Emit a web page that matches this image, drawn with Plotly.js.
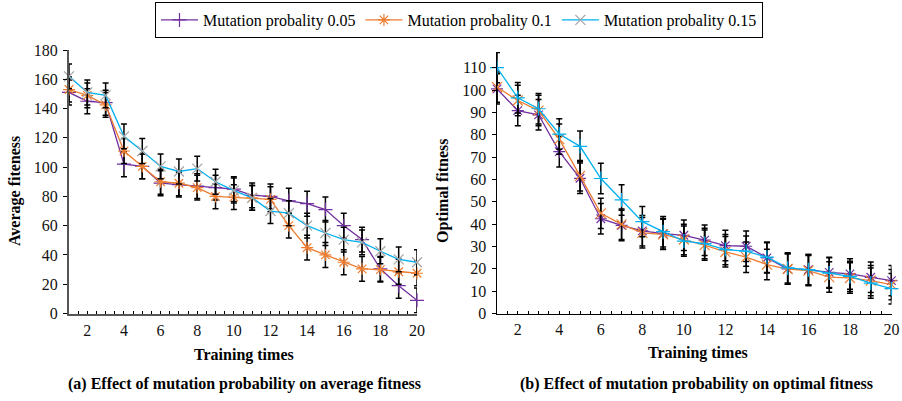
<!DOCTYPE html>
<html>
<head>
<meta charset="utf-8">
<script src="https://cdn.plot.ly/plotly-3.0.1.min.js"></script>
<style>html,body{margin:0;padding:0;background:#fff;}#chart{width:902px;height:401px;}</style>
</head>
<body>
<div id="chart"></div>
<script>
const trainingTimes = [1,2,3,4,5,6,7,8,9,10,11,12,13,14,15,16,17,18,19,20];
const seriesNames = ['Mutation probality 0.05','Mutation probality 0.1','Mutation probality 0.15'];

// (a) average fitness
const avgP005 = [151,145,144,102,100.5,89,88,87,86,85,80.7,80,77,75,71,60,50.5,30.5,19,9];
const avgP010 = [153,149,142.5,111,100.5,90,89,86,80,79.5,79,78,60,45,40,35,30.5,30,28.5,27.5];
const avgP015 = [162,151,149,121,111,100.5,97,99,90,84,79,70,68.5,60,55,50.5,48.6,42.5,37,35];
const avgErr = 8.5;

// (b) optimal fitness
const optP005 = [100.5,90.8,88.9,72.4,60.5,42.4,39.4,37,35.7,35,32.8,30.4,30.1,24.9,19.9,19.6,18.4,17.7,16.2,14.7];
const optP010 = [101.3,95.3,90.8,78,61.6,44.8,39.9,36.1,35.4,33.1,30.6,27.6,25.2,21.9,19.9,19.2,16.3,15.9,14.7,12.9];
const optP015 = [110,96.5,91.6,80.3,74.8,60.4,50.8,41.1,36.6,32.4,31.3,28.6,27.9,25.2,20.4,19.6,18.1,16.6,13.6,11.1];
const optErr = 6.8;

const PURPLE = '#7030A0', ORANGE = '#ED7D31', BLUE = '#00B0F0', GRAY = '#A5A5A5';
const W = 902, H = 401;
const px = v => v / W, py = v => 1 - v / H;
const serif = 'Liberation Serif, Times New Roman, serif';

function tr(y, name, color, mcolor, symbol, err, xa, ya, show) {
  return {
    x: trainingTimes, y: y, name: name, type: 'scatter', mode: 'lines+markers',
    xaxis: xa, yaxis: ya, showlegend: show, cliponaxis: false,
    line: {color: color, width: 1.3},
    marker: {symbol: symbol, size: 10, color: mcolor, line: {color: mcolor, width: 1.2}},
    error_y: {type: 'constant', value: err, visible: true, color: '#000', thickness: 1.5, width: 3}
  };
}

const data = [
  tr(avgP005, seriesNames[0], PURPLE, PURPLE, 'cross-thin-open', avgErr, 'x', 'y', true),
  tr(avgP010, seriesNames[1], ORANGE, ORANGE, 'asterisk-open', avgErr, 'x', 'y', true),
  tr(avgP015, seriesNames[2], BLUE, GRAY, 'x-thin-open', avgErr, 'x', 'y', true),
  tr(optP005, seriesNames[0], PURPLE, PURPLE, 'asterisk-open', optErr, 'x2', 'y2', false),
  tr(optP010, seriesNames[1], ORANGE, ORANGE, 'x-thin-open', optErr, 'x2', 'y2', false),
  tr(optP015, seriesNames[2], BLUE, BLUE, 'cross-thin-open', optErr, 'x2', 'y2', false)
];

const tickFont = {family: serif, size: 16, color: '#111'};
function xax(domain, lc, lw) {
  return {
    domain: domain, range: [1, 20], tick0: 0, dtick: 2, ticks: 'inside', ticklen: 3, tickwidth: 1,
    tickcolor: '#000', showline: true, linecolor: lc, linewidth: lw, showgrid: false, zeroline: false,
    tickfont: tickFont, ticklabelstandoff: 1,
    minor: {dtick: 0.5, ticks: 'inside', ticklen: 3, tickcolor: '#000', showgrid: false}
  };
}
function yax(domain, range, dtick, lc, lw, anchor) {
  return {
    domain: domain, range: range, dtick: dtick, ticks: 'outside', ticklen: 4, tickwidth: 1,
    tickcolor: '#000', showline: true, linecolor: lc, linewidth: lw, showgrid: false, zeroline: false,
    tickfont: tickFont, anchor: anchor, ticklabelstandoff: 2
  };
}

function ann(text, x, y, size, angle) {
  return {text: text, x: px(x), y: py(y), xref: 'paper', yref: 'paper', xanchor: 'center', yanchor: 'middle',
          textangle: angle || 0, showarrow: false, font: {family: serif, size: size, color: '#000'}};
}

const layout = {
  width: W, height: H, margin: {l: 0, r: 0, t: 0, b: 0},
  paper_bgcolor: '#fff', plot_bgcolor: '#fff',
  font: {family: serif, color: '#000'},
  xaxis: Object.assign(xax([px(69), px(417)], '#555', 2), {anchor: 'y'}),
  yaxis: yax([1 - 313.5 / H, 1 - 50 / H], [0, 180], 20, '#555', 2, 'x'),
  xaxis2: Object.assign(xax([px(497), px(891.5)], '#000', 1.5), {anchor: 'y2'}),
  yaxis2: yax([1 - 313.5 / H, 1 - 52 / H], [0, 117], 10, '#000', 1.5, 'x2'),
  showlegend: true,
  legend: {
    orientation: 'h', x: px(155), y: py(2), xanchor: 'left', yanchor: 'top',
    bordercolor: '#000', borderwidth: 1, bgcolor: '#fff',
    font: {family: serif, size: 16, color: '#000'}, itemwidth: 37
  },
  annotations: [
    ann('<b>Average fiteness</b>', 15, 191, 16, -90),
    ann('<b>Optimal fitness</b>', 443, 191, 16, -90),
    ann('<b>Training times</b>', 244, 355, 16),
    ann('<b>Training times</b>', 698, 353, 16),
    ann('<b>(a) Effect of mutation probability on average fitness</b>', 244, 384, 16),
    ann('<b>(b) Effect of mutation probability on optimal fitness</b>', 696, 384, 16)
  ]
};

Plotly.newPlot('chart', data, layout, {displayModeBar: false, staticPlot: true});
</script>
</body>
</html>
